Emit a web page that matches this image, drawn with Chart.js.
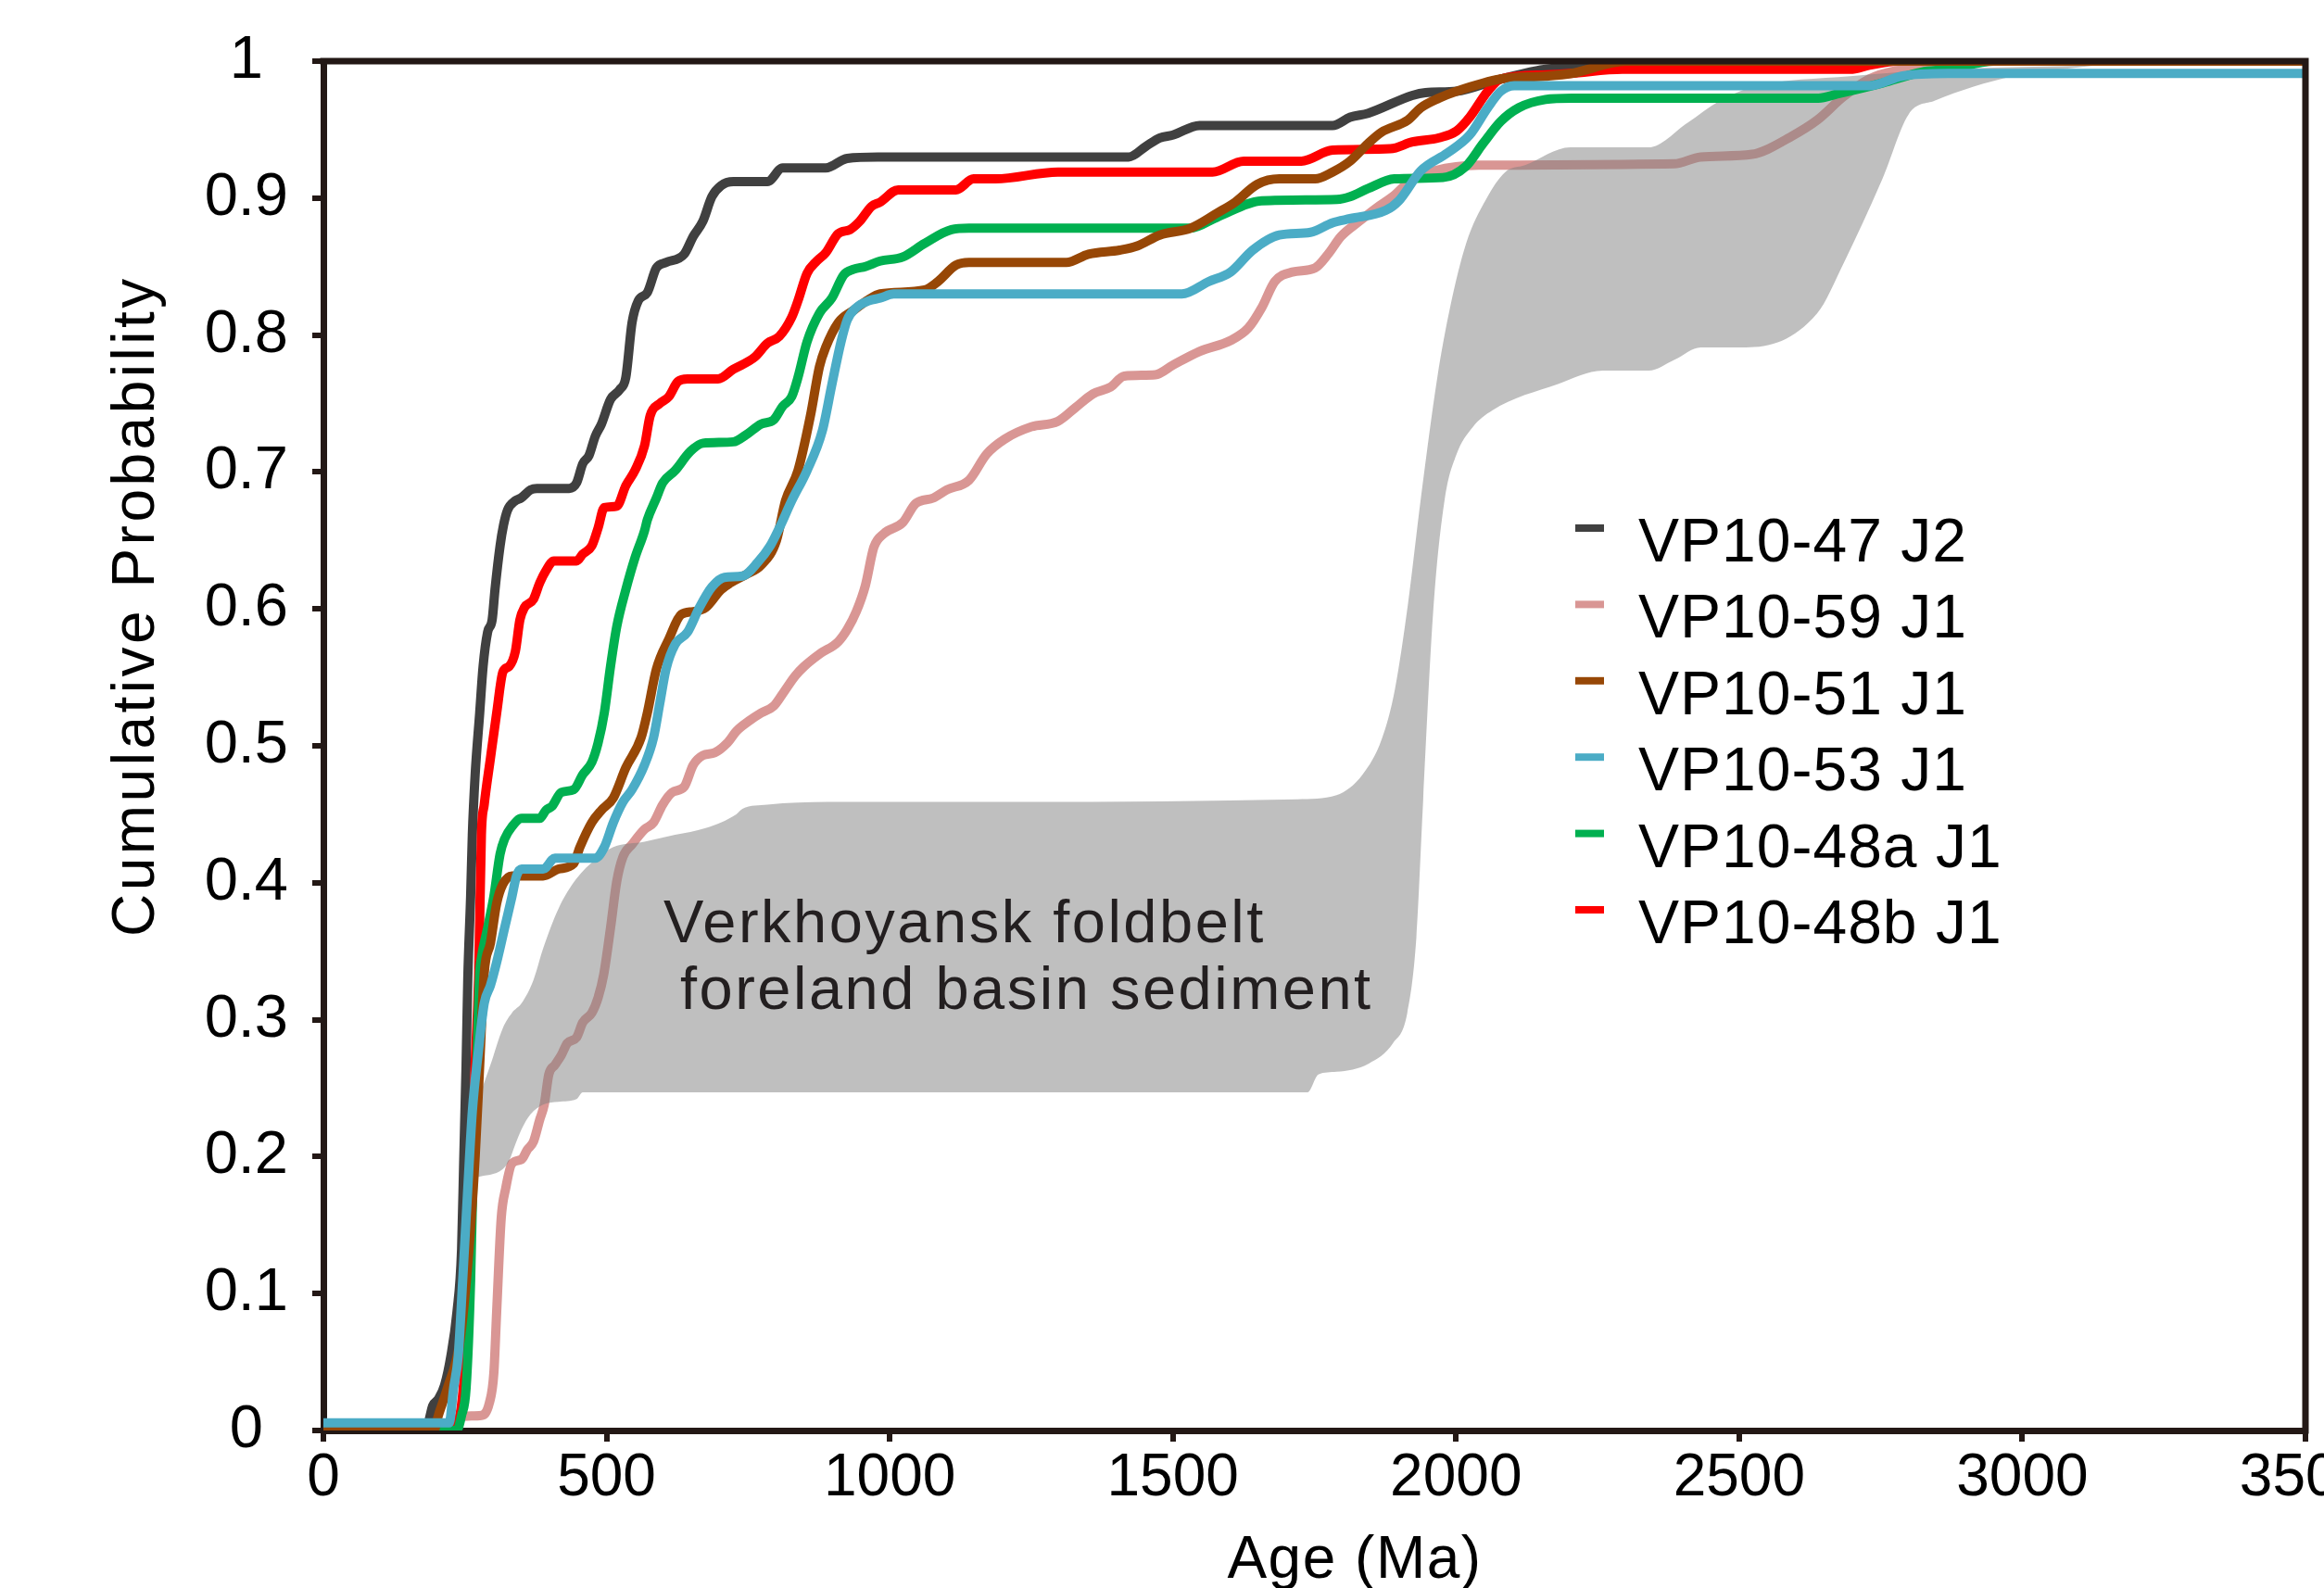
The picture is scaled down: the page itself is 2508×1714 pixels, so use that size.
<!DOCTYPE html>
<html>
<head>
<meta charset="utf-8">
<title>Cumulative Probability</title>
<script src="https://cdn.jsdelivr.net/npm/chart.js@4.4.1/dist/chart.umd.min.js"></script>
<style>
  html, body { margin: 0; padding: 0; background: #fff; }
  canvas { display: block; }
</style>
</head>
<body>
<canvas id="cdfChart" width="2508" height="1714" style="width:2508px;height:1714px"></canvas>
<script>
// tick labels
const xTickLabels = ['0', '500', '1000', '1500', '2000', '2500', '3000', '3500'];
const yTickLabels = ['0', '0.1', '0.2', '0.3', '0.4', '0.5', '0.6', '0.7', '0.8', '0.9', '1'];

// sample names (legend order)
const sampleNames = ['VP10-47 J2', 'VP10-59 J1', 'VP10-51 J1', 'VP10-53 J1', 'VP10-48a J1', 'VP10-48b J1'];

// VP10-47 J2
const ages47 = [0,184,188,193,203,214,225,236,244,248,252,255,260,263,268,276,282,290,298,303,312,318,325,339,349,366,377,434,447,458,469,480,491,507,523,534,545,556,572,588,605,637,653,670,686,702,724,784,811,887,925,979,1422,1453,1477,1500,1547,1782,1813,1845,1923,1946,2001,2071,2142,2204,2280,3500];
const prob47 = [0,0.003,0.010,0.018,0.023,0.033,0.054,0.087,0.132,0.200,0.267,0.330,0.390,0.435,0.479,0.524,0.558,0.583,0.592,0.614,0.646,0.661,0.672,0.679,0.681,0.687,0.688,0.688,0.692,0.706,0.712,0.726,0.735,0.753,0.760,0.769,0.809,0.825,0.831,0.849,0.853,0.859,0.872,0.883,0.901,0.909,0.912,0.912,0.922,0.922,0.929,0.930,0.930,0.938,0.944,0.946,0.953,0.953,0.959,0.962,0.975,0.977,0.978,0.986,0.993,0.996,1.0,1.0];

// VP10-59 J1
const ages59 = [0,228,240,279,293,301,306,314,322,333,350,360,371,382,390,398,409,420,431,447,458,474,485,495,507,518,529,545,567,583,599,616,637,653,670,691,713,730,751,773,795,811,833,849,876,909,925,941,957,972,990,1023,1046,1077,1101,1140,1171,1203,1250,1297,1328,1359,1390,1414,1469,1500,1547,1602,1633,1657,1680,1711,1751,1774,1797,1829,1860,1891,1923,1962,2040,2385,2432,2523,2592,2638,2684,2730,2776,2868,2950,3500];
const prob59 = [0,0,0.010,0.011,0.020,0.042,0.087,0.155,0.177,0.195,0.198,0.205,0.211,0.227,0.238,0.260,0.267,0.274,0.283,0.287,0.298,0.305,0.316,0.333,0.367,0.401,0.419,0.428,0.439,0.444,0.457,0.466,0.470,0.486,0.493,0.495,0.502,0.511,0.518,0.524,0.529,0.538,0.551,0.558,0.567,0.576,0.585,0.598,0.617,0.645,0.655,0.663,0.677,0.681,0.687,0.694,0.713,0.724,0.733,0.737,0.747,0.757,0.762,0.770,0.771,0.778,0.788,0.796,0.805,0.820,0.839,0.846,0.849,0.859,0.872,0.883,0.893,0.902,0.914,0.920,0.924,0.925,0.930,0.932,0.945,0.957,0.974,0.987,0.993,0.996,1.0,1.0];

// VP10-51 J1
const ages51 = [0,195,203,219,241,257,268,276,284,295,306,317,333,388,415,442,453,474,491,512,534,561,572,588,610,632,653,675,702,719,746,773,800,816,838,860,876,887,909,936,963,983,1062,1085,1117,1140,1312,1351,1406,1437,1477,1531,1578,1610,1649,1688,1751,1782,1813,1845,1868,1915,1938,1970,2001,2079,2158,2204,2300,3500];
const prob51 = [0,0,0.011,0.031,0.065,0.132,0.200,0.267,0.334,0.356,0.385,0.399,0.405,0.405,0.410,0.414,0.426,0.444,0.453,0.462,0.484,0.506,0.524,0.556,0.578,0.596,0.598,0.601,0.614,0.619,0.625,0.632,0.650,0.679,0.701,0.741,0.777,0.791,0.809,0.818,0.826,0.830,0.833,0.839,0.851,0.853,0.853,0.859,0.862,0.865,0.873,0.878,0.889,0.897,0.910,0.914,0.914,0.919,0.927,0.940,0.948,0.957,0.966,0.973,0.978,0.987,0.989,0.991,1.0,1.0];

// VP10-53 J1
const ages53 = [0,222,230,238,246,255,263,274,284,295,306,320,333,341,350,388,409,480,496,512,529,545,567,583,594,605,621,643,664,686,708,740,767,789,805,827,854,881,898,914,925,941,963,983,1007,1516,1563,1602,1641,1688,1743,1782,1813,1876,1899,1938,1985,2024,2056,2079,2103,2730,2787,2868,3500];
const prob53 = [0.0055,0.0055,0.031,0.054,0.110,0.177,0.233,0.278,0.312,0.325,0.342,0.367,0.390,0.405,0.410,0.410,0.418,0.418,0.426,0.444,0.459,0.468,0.486,0.506,0.531,0.556,0.574,0.583,0.601,0.616,0.623,0.624,0.634,0.646,0.659,0.679,0.701,0.730,0.764,0.795,0.811,0.820,0.825,0.827,0.830,0.830,0.839,0.846,0.862,0.873,0.875,0.882,0.885,0.891,0.898,0.920,0.933,0.946,0.966,0.978,0.982,0.982,0.989,0.991,0.991];

// VP10-48a J1
const ages48a = [0,235,244,252,260,265,271,276,279,290,301,312,320,333,350,382,393,404,420,442,458,474,485,496,507,518,534,550,567,572,588,599,621,648,670,724,746,773,795,811,827,838,854,876,898,919,936,957,983,1023,1062,1109,1140,1531,1578,1657,1790,1813,1845,1891,1977,2017,2048,2079,2111,2158,2204,2640,2673,2753,2822,2868,2950,3500];
const prob48a = [0,0,0.011,0.031,0.110,0.200,0.267,0.334,0.345,0.367,0.390,0.421,0.432,0.441,0.447,0.447,0.453,0.456,0.466,0.468,0.479,0.488,0.502,0.524,0.558,0.587,0.614,0.637,0.657,0.665,0.681,0.692,0.701,0.715,0.721,0.722,0.727,0.735,0.738,0.748,0.755,0.769,0.795,0.816,0.827,0.844,0.848,0.850,0.854,0.857,0.867,0.877,0.878,0.878,0.886,0.898,0.899,0.901,0.907,0.914,0.915,0.923,0.940,0.956,0.966,0.972,0.973,0.973,0.976,0.984,0.992,0.994,1.0,1.0];

// VP10-48b J1
const ages48b = [0,225,241,249,257,263,268,274,279,284,295,306,317,328,339,347,355,371,382,393,407,447,458,474,485,496,518,534,550,567,577,594,610,626,643,697,724,762,784,805,827,838,854,871,887,909,930,947,968,983,1015,1117,1148,1187,1297,1570,1625,1727,1782,1884,1923,1970,2001,2024,2056,2079,2158,2202,2294,2696,2730,2780,3500];
const prob48b = [0,0,0.011,0.042,0.110,0.200,0.267,0.330,0.435,0.457,0.491,0.524,0.554,0.558,0.569,0.592,0.601,0.607,0.619,0.628,0.635,0.635,0.640,0.646,0.659,0.674,0.675,0.690,0.701,0.719,0.741,0.750,0.755,0.766,0.768,0.768,0.775,0.784,0.794,0.799,0.813,0.825,0.845,0.854,0.860,0.874,0.877,0.883,0.894,0.897,0.906,0.906,0.914,0.914,0.919,0.919,0.927,0.927,0.935,0.936,0.941,0.944,0.949,0.959,0.978,0.987,0.990,0.991,0.994,0.994,0.997,1.0,1.0];

// Verkhoyansk foldbelt foreland basin sediment envelope
const bandUpperAge = [272,295,317,333,350,371,388,415,447,480,512,567,621,675,729,740,784,892,1238,1720,1789,1835,1869,1892,1915,1938,1967,1990,2018,2053,2087,2122,2202,2340,2409,2466,2523,2696,2868,3132];
const bandUpperProb = [0.240,0.267,0.294,0.305,0.312,0.329,0.352,0.381,0.403,0.417,0.426,0.430,0.435,0.440,0.450,0.454,0.457,0.459,0.459,0.461,0.464,0.479,0.505,0.541,0.603,0.681,0.769,0.821,0.867,0.899,0.919,0.924,0.937,0.937,0.955,0.971,0.981,0.989,0.994,0.997];
const bandLowerAge = [272,317,328,339,350,366,388,415,447,458,512,979,1738,1757,1789,1846,1889,1914,1930,1942,1960,1980,2000,2030,2064,2179,2259,2340,2386,2432,2512,2638,2684,2753,2799,2845,2983,3132];
const bandLowerProb = [0.185,0.191,0.197,0.209,0.220,0.231,0.238,0.240,0.242,0.247,0.247,0.247,0.247,0.260,0.262,0.268,0.283,0.305,0.360,0.460,0.600,0.680,0.712,0.733,0.745,0.764,0.774,0.774,0.782,0.791,0.791,0.816,0.852,0.914,0.961,0.971,0.989,0.997];

const FONT = '"Liberation Sans", Arial, Helvetica, sans-serif';
const AXIS_COLOR = '#231815';

function pts(xs, ys) {
    return xs.map((x, i) => ({ x: x, y: ys[i] }));
}

function curve(label, xs, ys, color, order) {
    return {
        label: label,
        data: pts(xs, ys),
        borderColor: color,
        backgroundColor: color,
        borderWidth: 10,
        pointRadius: 0,
        pointHoverRadius: 0,
        fill: false,
        cubicInterpolationMode: 'monotone',
        borderJoinStyle: 'round',
        borderCapStyle: 'round',
        order: order
    };
}

// 自定义绘制：边框、图例、注释、坐标轴标题
const decorations = {
    id: 'decorations',
    afterDraw(chart) {
        const ctx = chart.ctx;
        const a = chart.chartArea;
        ctx.save();

        // top and right frame
        ctx.strokeStyle = AXIS_COLOR;
        ctx.lineWidth = 7;
        ctx.lineCap = 'square';
        ctx.lineJoin = 'miter';
        ctx.beginPath();
        ctx.moveTo(a.left, a.top);
        ctx.lineTo(a.right, a.top);
        ctx.lineTo(a.right, a.bottom);
        ctx.stroke();

        // envelope annotation
        ctx.fillStyle = '#231f20';
        ctx.font = '65px ' + FONT;
        ctx.textAlign = 'left';
        ctx.textBaseline = 'alphabetic';
        ctx.letterSpacing = '2.5px';
        ctx.fillText('Verkhoyansk foldbelt', 716, 1017);
        ctx.fillText('foreland basin sediment', 734, 1089);

        // legend
        ctx.font = '66px ' + FONT;
        ctx.letterSpacing = '1px';
        ctx.fillStyle = '#000';
        for (let i = 0; i < sampleNames.length; i++) {
            const base = 606 + i * 82.4;
            ctx.strokeStyle = chart.data.datasets[i].borderColor;
            ctx.lineWidth = 8;
            ctx.lineCap = 'butt';
            ctx.beginPath();
            ctx.moveTo(1700, base - 36);
            ctx.lineTo(1731, base - 36);
            ctx.stroke();
            ctx.fillText(sampleNames[i], 1768, base);
        }

        // axis titles
        ctx.font = '64px ' + FONT;
        ctx.letterSpacing = '1.5px';
        ctx.textAlign = 'center';
        ctx.fillText('Age (Ma)', 1462, 1703);

        ctx.save();
        ctx.translate(166, 1011);
        ctx.rotate(-Math.PI / 2);
        ctx.textAlign = 'left';
        ctx.letterSpacing = '3.5px';
        ctx.fillText('Cumulative Probability', 0, 0);
        ctx.restore();

        ctx.restore();
    }
};

document.addEventListener('DOMContentLoaded', function() {
    Chart.defaults.font.family = FONT;

    new Chart(document.getElementById('cdfChart'), {
        type: 'line',
        data: {
            datasets: [
                curve(sampleNames[0], ages47, prob47, '#404040', 4),
                curve(sampleNames[1], ages59, prob59, '#d99694', 7),
                curve(sampleNames[2], ages51, prob51, '#974706', 1),
                curve(sampleNames[3], ages53, prob53, '#4bacc6', 0),
                curve(sampleNames[4], ages48a, prob48a, '#00b050', 2),
                curve(sampleNames[5], ages48b, prob48b, '#ff0000', 3),
                {
                    label: 'envelope upper',
                    data: pts(bandUpperAge, bandUpperProb),
                    borderWidth: 0,
                    borderColor: 'rgba(0,0,0,0)',
                    pointRadius: 0,
                    fill: false,
                    cubicInterpolationMode: 'monotone',
                    order: 6
                },
                {
                    label: 'envelope lower',
                    data: pts(bandLowerAge, bandLowerProb),
                    borderWidth: 0,
                    borderColor: 'rgba(0,0,0,0)',
                    backgroundColor: 'rgba(128,128,128,0.5)',
                    pointRadius: 0,
                    fill: '-1',
                    cubicInterpolationMode: 'monotone',
                    order: 6
                }
            ]
        },
        options: {
            responsive: false,
            animation: false,
            devicePixelRatio: 1,
            layout: { padding: { top: 66, right: 20, left: 0, bottom: 0 } },
            scales: {
                x: {
                    type: 'linear',
                    min: 0,
                    max: 3500,
                    border: { display: true, width: 7, color: AXIS_COLOR },
                    grid: { drawOnChartArea: false, drawTicks: true, tickLength: 12, tickWidth: 6, lineWidth: 6, tickColor: AXIS_COLOR, color: AXIS_COLOR },
                    ticks: {
                        stepSize: 500,
                        autoSkip: false,
                        maxRotation: 0,
                        padding: 2,
                        color: '#000',
                        font: { size: 64, family: FONT },
                        callback: v => xTickLabels[Math.round(v / 500)]
                    },
                    afterFit(s) {
                        s.height = 170;
                        s.paddingLeft = 0;
                        s.paddingRight = 0;
                    }
                },
                y: {
                    min: 0,
                    max: 1,
                    border: { display: true, width: 7, color: AXIS_COLOR },
                    grid: { drawOnChartArea: false, drawTicks: true, tickLength: 12, tickWidth: 6, lineWidth: 6, tickColor: AXIS_COLOR, color: AXIS_COLOR },
                    ticks: {
                        stepSize: 0.1,
                        autoSkip: false,
                        padding: 26,
                        crossAlign: 'center',
                        color: '#000',
                        font: { size: 65, family: FONT },
                        callback: v => yTickLabels[Math.round(v * 10)]
                    },
                    afterFit(s) {
                        s.width = 349;
                        s.paddingTop = 0;
                        s.paddingBottom = 0;
                    }
                }
            },
            plugins: {
                legend: { display: false },
                tooltip: { enabled: false },
                filler: { propagate: false }
            }
        },
        plugins: [decorations]
    });
});
</script>
</body>
</html>
